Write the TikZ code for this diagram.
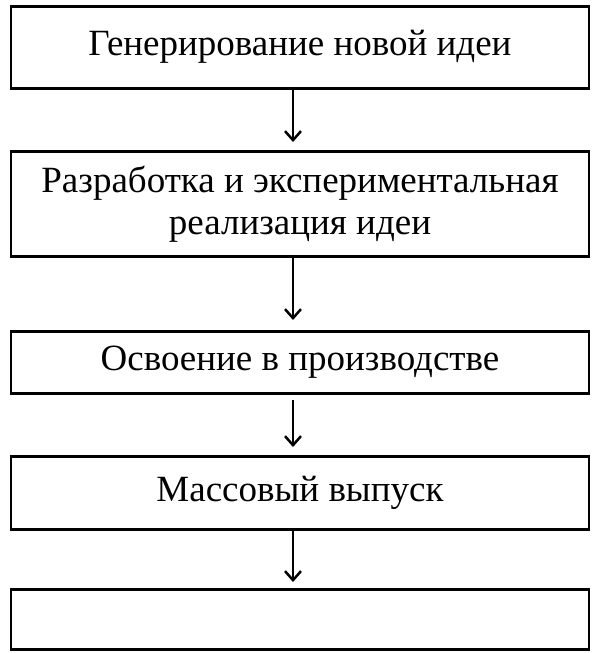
\documentclass[tikz,border=0pt]{standalone}
\usepackage{fontspec}
\setmainfont{Liberation Serif}
\usetikzlibrary{arrows.meta}
\begin{document}
\begin{tikzpicture}[x=1pt,y=-1pt,
 box/.style={draw,line width=2.5pt,minimum width=578pt,anchor=north,inner sep=0pt,align=center,font=\fontsize{37}{42}\selectfont},
 arr/.style={line width=2.5pt,-{Straight Barb[length=9pt,width=16pt,line width=2.5pt]}}]
\useasboundingbox (0,0) rectangle (600,653);
\node[box,minimum height=82pt] (a) at (300,5) {\raisebox{-5pt}{Генерирование новой идеи}};
\node[box,minimum height=105pt] (b) at (300,150) {Разработка и экспериментальная\\реализация идеи};
\node[box,minimum height=62pt] (c) at (300,330) {Освоение в производстве};
\node[box,minimum height=73pt] (d) at (300,455) {Массовый выпуск};
\node[box,minimum height=60pt] (e) at (300,588) {};
\draw[arr] (293,87) -- (293,142);
\draw[arr] (293,256) -- (293,320);
\draw[arr] (293,400) -- (293,447);
\draw[arr] (293,529) -- (293,582);
\end{tikzpicture}
\end{document}
